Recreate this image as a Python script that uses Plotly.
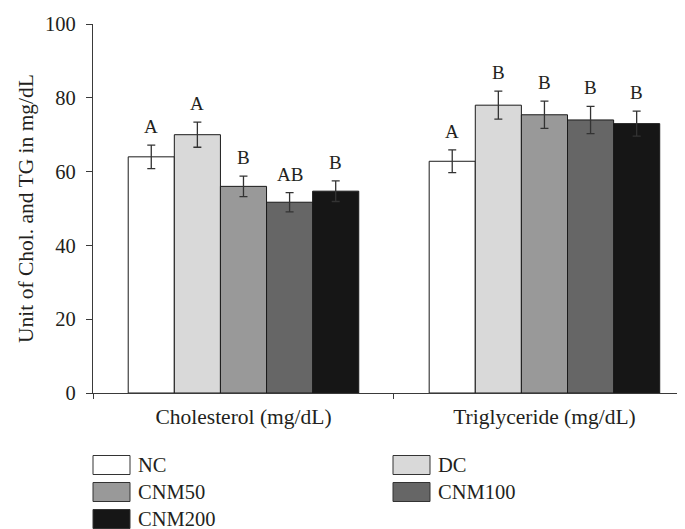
import plotly.graph_objects as go

categories = ["Cholesterol (mg/dL)", "Triglyceride (mg/dL)"]
groups = ["NC", "DC", "CNM50", "CNM100", "CNM200"]
values = {
    "NC": [64.0, 62.8],
    "DC": [70.0, 78.0],
    "CNM50": [56.0, 75.4],
    "CNM100": [51.7, 74.0],
    "CNM200": [54.7, 73.0],
}
errors = {
    "NC": [3.2, 3.1],
    "DC": [3.4, 3.8],
    "CNM50": [2.8, 3.7],
    "CNM100": [2.6, 3.7],
    "CNM200": [2.8, 3.4],
}
letters = {
    "NC": ["A", "A"],
    "DC": ["A", "B"],
    "CNM50": ["B", "B"],
    "CNM100": ["AB", "B"],
    "CNM200": ["B", "B"],
}
colors = {
    "NC": "#ffffff",
    "DC": "#d9d9d9",
    "CNM50": "#999999",
    "CNM100": "#666666",
    "CNM200": "#161616",
}
yticks = [0, 20, 40, 60, 80, 100]

OFF = 8  # browser body margin
W, H = 685 - OFF, 529 - OFF
ML, MR, MT = 93 - OFF, 0, 24 - OFF
PLOT_H = 369
MB = H - MT - PLOT_H
FONT = "Liberation Serif"
TXT = "#231f20"
AX = "#3a3a3a"
BARGAP = 0.234
XRANGE = [-0.5, 1.467]

plot_w = W - ML - MR
plot_h = PLOT_H
px_per_cat = plot_w / (XRANGE[1] - XRANGE[0])
bar_w_px = px_per_cat * (1 - BARGAP) / len(groups)

fig = go.Figure()
for i, g in enumerate(groups):
    fig.add_trace(go.Bar(
        name=g, x=categories, y=values[g],
        marker=dict(color=colors[g], line=dict(color="#1a1a1a", width=1)),
        error_y=dict(type="data", array=errors[g], color="#333333",
                     thickness=1.3, width=4),
        showlegend=False,
    ))
    for j, c in enumerate(categories):
        fig.add_annotation(
            x=c, y=values[g][j] + errors[g][j], text=letters[g][j],
            showarrow=False, yanchor="bottom", yshift=6,
            xshift=(i - (len(groups) - 1) / 2) * bar_w_px,
            font=dict(family=FONT, size=19, color=TXT),
        )

# custom legend (large swatches); positions in page pixels
def px2paper(px, py):
    return (px - OFF - ML) / plot_w, (OFF + MT + plot_h - py) / plot_h

legend_cols = [93, 393]
legend_rows = [465, 492, 519]
for k, g in enumerate(groups):
    cx = legend_cols[k % 2]
    cy = legend_rows[k // 2]
    x0, ytop = px2paper(cx, cy - 9.5)
    x1, ybot = px2paper(cx + 37, cy + 9.5)
    fig.add_shape(type="rect", xref="paper", yref="paper",
                  x0=x0, x1=x1, y0=ybot, y1=ytop,
                  fillcolor=colors[g], line=dict(color="#333333", width=1))
    tx, ty = px2paper(cx + 43, cy)
    fig.add_annotation(xref="paper", yref="paper", x=tx, y=ty, text=g,
                       showarrow=False, xanchor="left", yanchor="middle",
                       font=dict(family=FONT, size=20.5, color=TXT))

fig.update_layout(
    width=W, height=H,
    margin=dict(l=ML, r=MR, t=MT, b=MB, pad=0),
    plot_bgcolor="white", paper_bgcolor="white",
    barmode="group", bargap=BARGAP, bargroupgap=0,
    font=dict(family=FONT, size=17, color=TXT),
    xaxis=dict(range=XRANGE, showline=True, linecolor=AX, linewidth=1.2,
               ticks="outside", tickson="boundaries", ticklen=5,
               tickcolor=AX, showgrid=False, zeroline=False,
               ticklabelstandoff=4,
               tickfont=dict(family=FONT, size=21.5, color=TXT)),
    yaxis=dict(range=[0, 100], tickvals=yticks, showline=True,
               linecolor=AX, linewidth=1.2, ticks="outside", ticklen=6,
               tickcolor=AX, showgrid=False, zeroline=False,
               ticklabelstandoff=6,
               tickfont=dict(family=FONT, size=20.5, color=TXT),
               title=dict(text="Unit of Chol. and TG in mg/dL",
                          font=dict(family=FONT, size=21.5, color=TXT),
                          standoff=5)),
)

fig.write_html("out.html")
